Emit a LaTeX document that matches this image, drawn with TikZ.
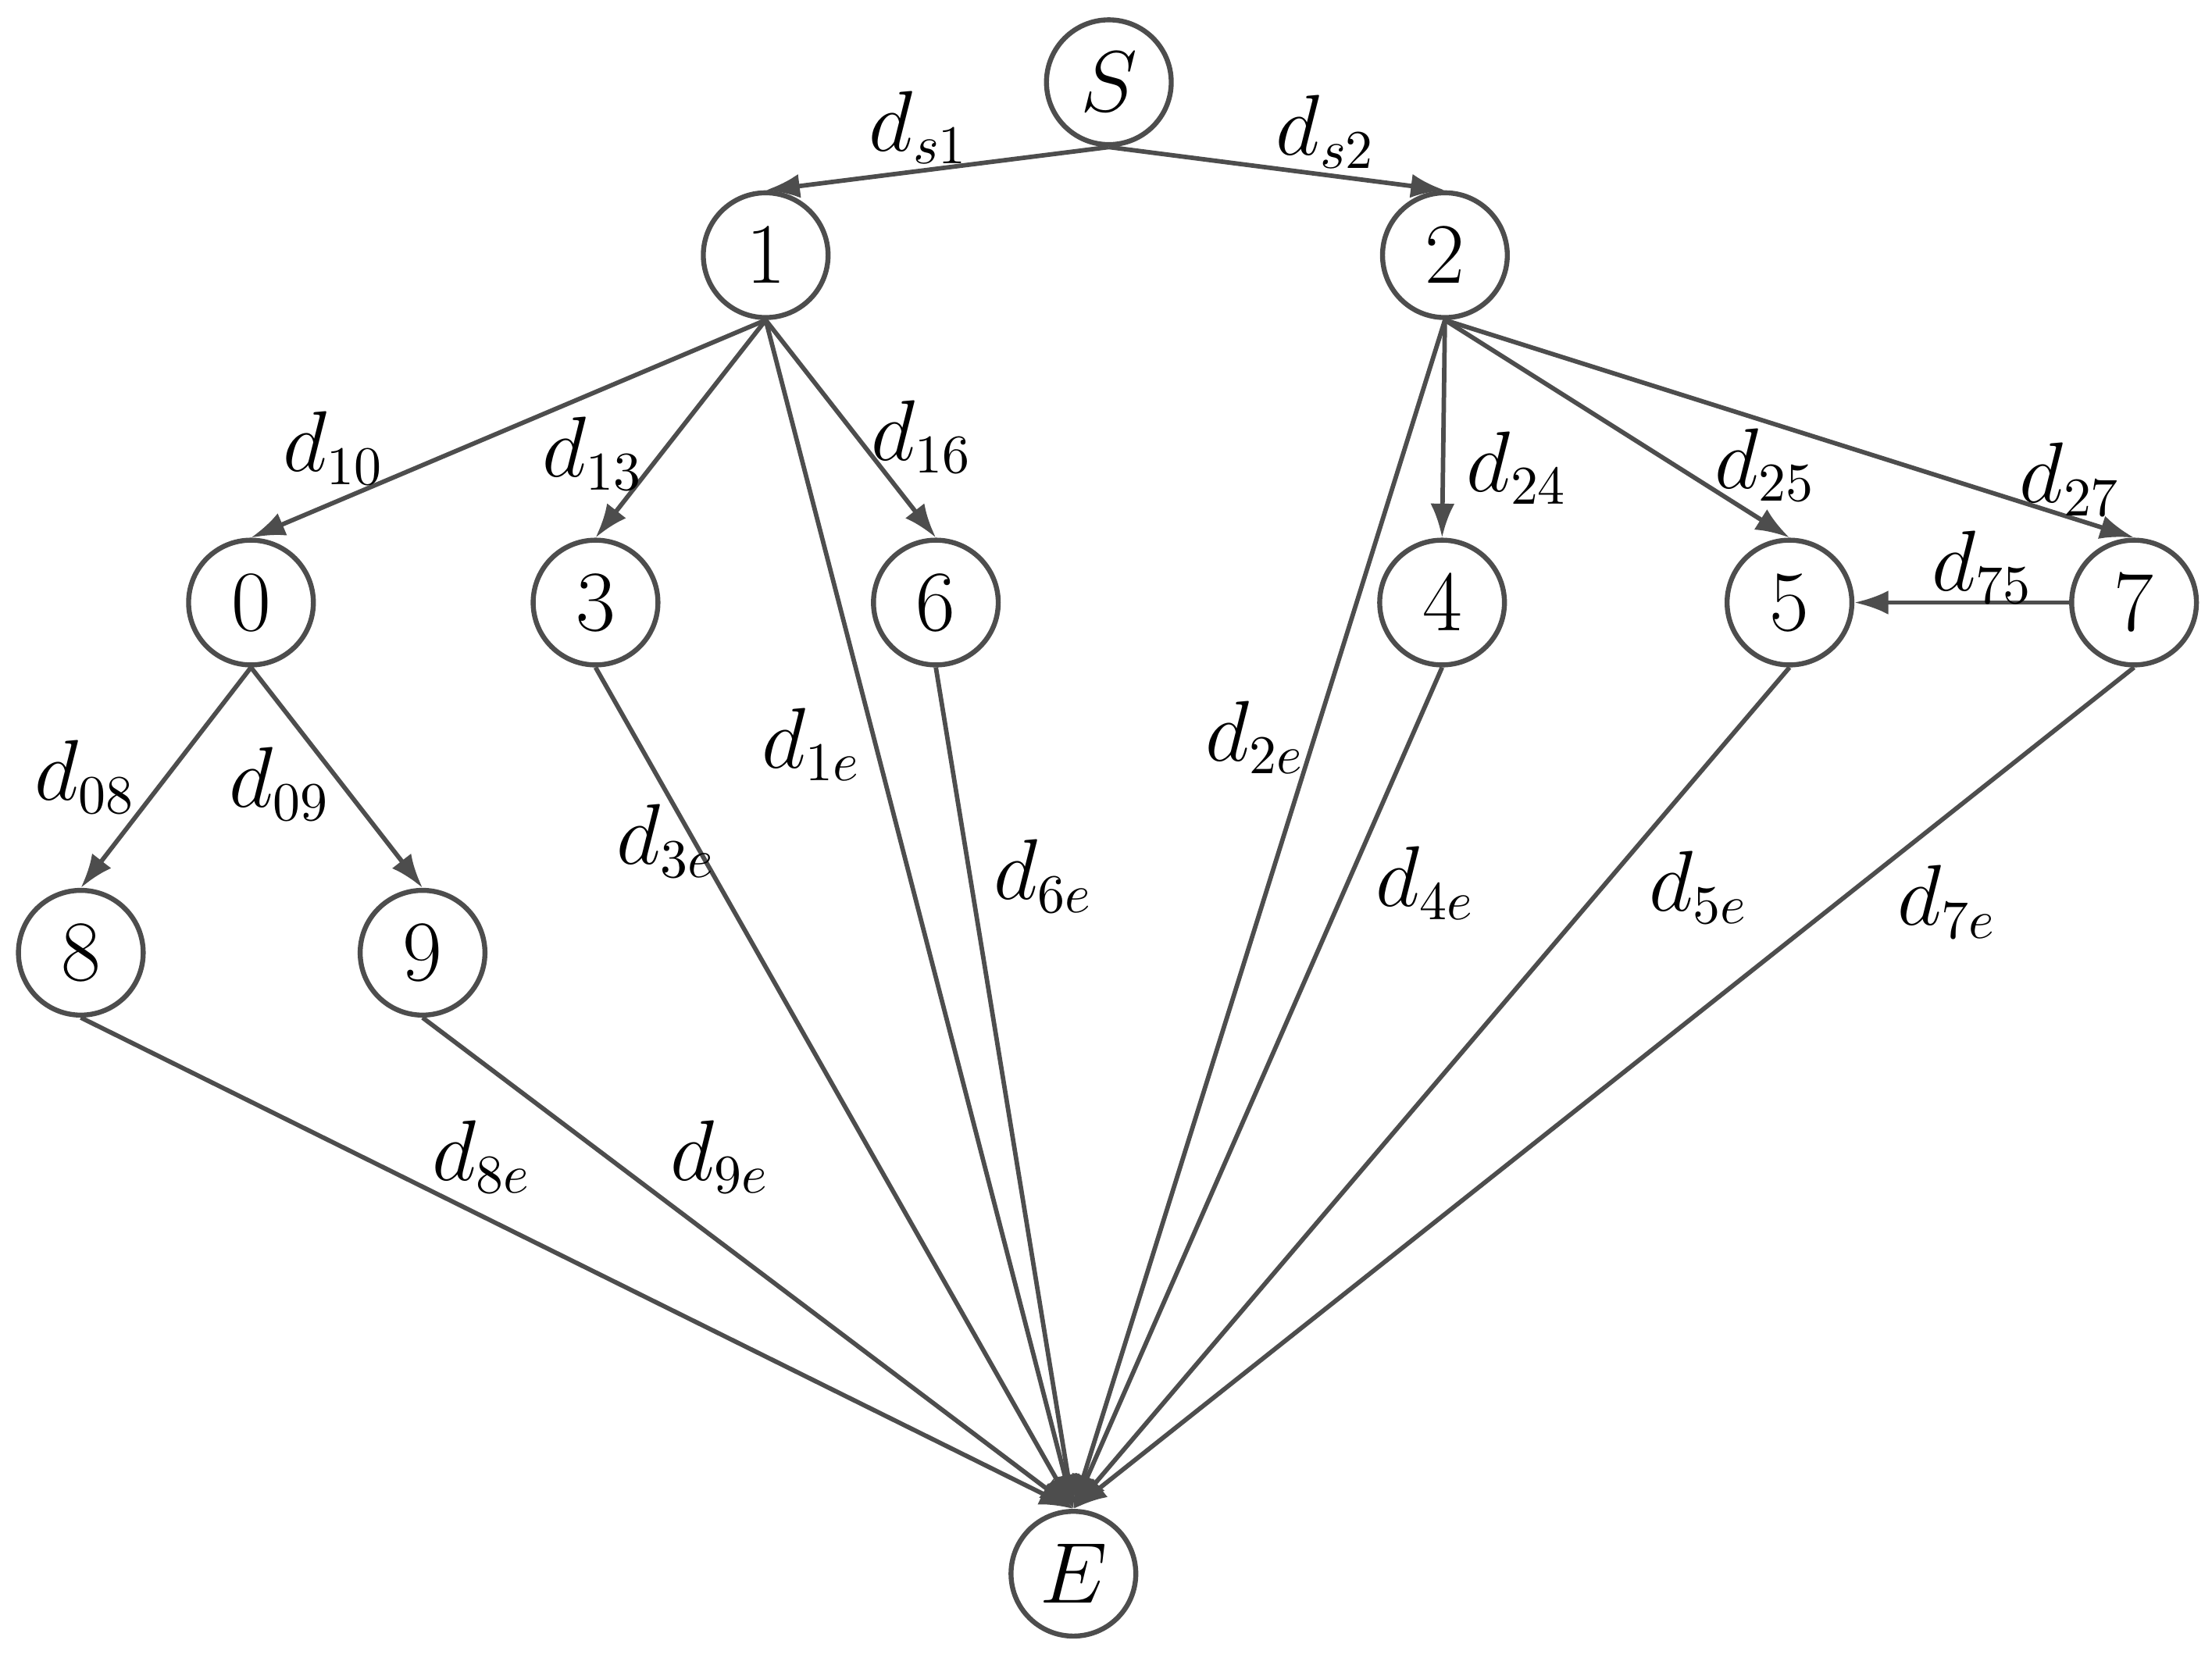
\documentclass[tikz,border=0pt]{standalone}
\usepackage{tikz}
\usetikzlibrary{arrows.meta,positioning}
\definecolor{edgegray}{RGB}{77,77,77}
\tikzset{%
	vertex/.style = {draw=edgegray, circle, line width=1pt, minimum size=0.88cm, inner sep=0pt, font=\fontsize{16}{19}\selectfont},
	weight/.style = {font=\fontsize{16}{19}\selectfont, inner sep=1pt},
	arrow/.style  = {draw=edgegray, line width=0.9pt, -{Latex[length=2.4mm,width=1.7mm]}},
}

\begin{document}
\begin{tikzpicture}
	\useasboundingbox (0,0) rectangle (15.60,11.69);
	% vertices
	\node[vertex] (nS) at (7.82,11.11) {$S$};
	\node[vertex] (n1) at (5.40,9.89) {$1$};
	\node[vertex] (n2) at (10.19,9.89) {$2$};
	\node[vertex] (n0) at (1.77,7.44) {$0$};
	\node[vertex] (n3) at (4.20,7.44) {$3$};
	\node[vertex] (n6) at (6.60,7.44) {$6$};
	\node[vertex] (n4) at (10.17,7.44) {$4$};
	\node[vertex] (n5) at (12.62,7.44) {$5$};
	\node[vertex] (n7) at (15.05,7.44) {$7$};
	\node[vertex] (n8) at (0.57,4.97) {$8$};
	\node[vertex] (n9) at (2.98,4.97) {$9$};
	\node[vertex] (nE) at (7.57,0.59) {$E$};

	% edges
	\draw[arrow] (nS.south) -- (n1.north);
	\draw[arrow] (nS.south) -- (n2.north);
	\foreach \t in {n0,n3,n6} \draw[arrow] (n1.south) -- (\t.north);
	\foreach \t in {n4,n5,n7} \draw[arrow] (n2.south) -- (\t.north);
	\foreach \t in {n8,n9} \draw[arrow] (n0.south) -- (\t.north);
	\draw[arrow] (n7.west) -- (n5.east);
	\foreach \s in {n8,n9,n3,n1,n6,n2,n4,n5,n7} \draw[arrow] (\s.south) -- (nE.north);

	% weights
	\node[weight] (ws1) at (6.48,10.79) {$d_{s1}$};
	\node[weight] (ws2) at (9.35,10.76) {$d_{s2}$};
	\node[weight] (w10) at (2.35,8.53) {$d_{10}$};
	\node[weight] (w13) at (4.18,8.49) {$d_{13}$};
	\node[weight] (w16) at (6.50,8.61) {$d_{16}$};
	\node[weight] (w24) at (10.70,8.39) {$d_{24}$};
	\node[weight] (w25) at (12.45,8.41) {$d_{25}$};
	\node[weight] (w27) at (14.60,8.31) {$d_{27}$};
	\node[weight] (w75) at (13.98,7.69) {$d_{75}$};
	\node[weight] (w08) at (0.60,6.21) {$d_{08}$};
	\node[weight] (w09) at (1.97,6.16) {$d_{09}$};
	\node[weight] (w3e) at (4.70,5.76) {$d_{3e}$};
	\node[weight] (w1e) at (5.72,6.44) {$d_{1e}$};
	\node[weight] (w6e) at (7.36,5.51) {$d_{6e}$};
	\node[weight] (w2e) at (8.85,6.49) {$d_{2e}$};
	\node[weight] (w4e) at (10.05,5.46) {$d_{4e}$};
	\node[weight] (w5e) at (11.98,5.43) {$d_{5e}$};
	\node[weight] (w7e) at (13.73,5.33) {$d_{7e}$};
	\node[weight] (w8e) at (3.40,3.53) {$d_{8e}$};
	\node[weight] (w9e) at (5.08,3.53) {$d_{9e}$};
\end{tikzpicture}
\end{document}
